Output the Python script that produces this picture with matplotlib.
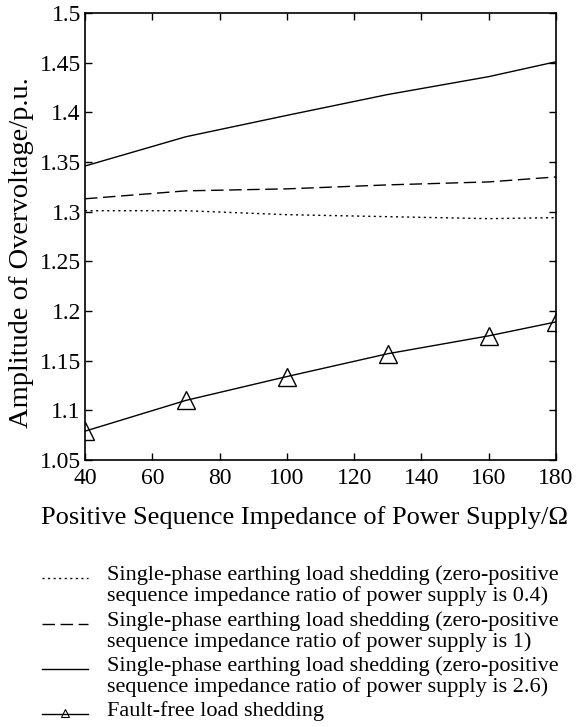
import matplotlib
matplotlib.use("Agg")
import matplotlib.pyplot as plt
from matplotlib.lines import Line2D

plt.rcParams['font.family'] = ['Liberation Serif', 'DejaVu Serif']
plt.rcParams['mathtext.fontset'] = 'stix'

# impedance of power supply (ohm)
x = [40, 70, 100, 130, 160, 180]
ratio_04 = [1.301, 1.301, 1.297, 1.295, 1.293, 1.294]
ratio_1 = [1.313, 1.321, 1.323, 1.327, 1.330, 1.335]
ratio_26 = [1.346, 1.3755, 1.397, 1.418, 1.436, 1.451]
fault_free = [1.079, 1.110, 1.134, 1.157, 1.175, 1.189]

labels = [
    "Single-phase earthing load shedding (zero-positive\nsequence impedance ratio of power supply is 0.4)",
    "Single-phase earthing load shedding (zero-positive\nsequence impedance ratio of power supply is 1)",
    "Single-phase earthing load shedding (zero-positive\nsequence impedance ratio of power supply is 2.6)",
    "Fault-free load shedding",
]

fig = plt.figure(figsize=(5.81, 7.27), dpi=100)
ax = fig.add_axes([0.1463, 0.3673, 0.957 - 0.1463, 0.982 - 0.3673])

ax.plot(x, ratio_04, color='black', lw=1.0, linestyle=(0, (1.5, 2.5)))
ax.plot(x, ratio_1, color='black', lw=1.0, linestyle=(0, (9, 4)))
ax.plot(x, ratio_26, color='black', lw=1.0, linestyle='-')
ax.plot(x, fault_free, color='black', lw=1.0, marker='^', markersize=12.5,
        markerfacecolor='none', markeredgewidth=1.0)

ax.set_xlim(40, 180)
ax.set_ylim(1.05, 1.5)
ax.set_xticks(range(40, 181, 20))
ax.set_yticks([1.05, 1.1, 1.15, 1.2, 1.25, 1.3, 1.35, 1.4, 1.45, 1.5])
ax.set_yticklabels(['1.05', '1.1', '1.15', '1.2', '1.25', '1.3', '1.35', '1.4', '1.45', '1.5'])
ax.tick_params(direction='in', top=True, right=True, labelsize=17, length=5, width=1)
ax.tick_params(axis='x', pad=6)
ax.tick_params(axis='y', pad=3)
for s in ax.spines.values():
    s.set_linewidth(1.2)

ax.set_xlabel("Positive Sequence Impedance of Power Supply/\u03a9", fontsize=19, labelpad=12, x=0.465)
ax.set_ylabel("Amplitude of Overvoltage/p.u.", fontsize=20.5, labelpad=4, y=0.465)

# legend drawn by hand below the axes
styles = [
    dict(linestyle=(0, (1.5, 2.5))),
    dict(linestyle=(0, (9, 4))),
    dict(linestyle='-'),
    dict(linestyle='-'),
]
rows_y = [578, 624, 669, 714]
H = 727.0
W = 581.0
for i, (lab, st, yy) in enumerate(zip(labels, styles, rows_y)):
    yf = 1 - yy / H
    fig.add_artist(Line2D([42 / W, 88 / W], [yf, yf], color='black', lw=1.0, **st))
    if i == 3:
        fig.add_artist(Line2D([65 / W], [yf + 0.002], color='black', marker='^', markersize=6,
                              markerfacecolor='none', markeredgewidth=0.8))
    fig.text(107 / W, yf + 13 / H, lab, fontsize=16, va='top', ha='left', linespacing=1.12)

fig.savefig("out.png", dpi=100)
